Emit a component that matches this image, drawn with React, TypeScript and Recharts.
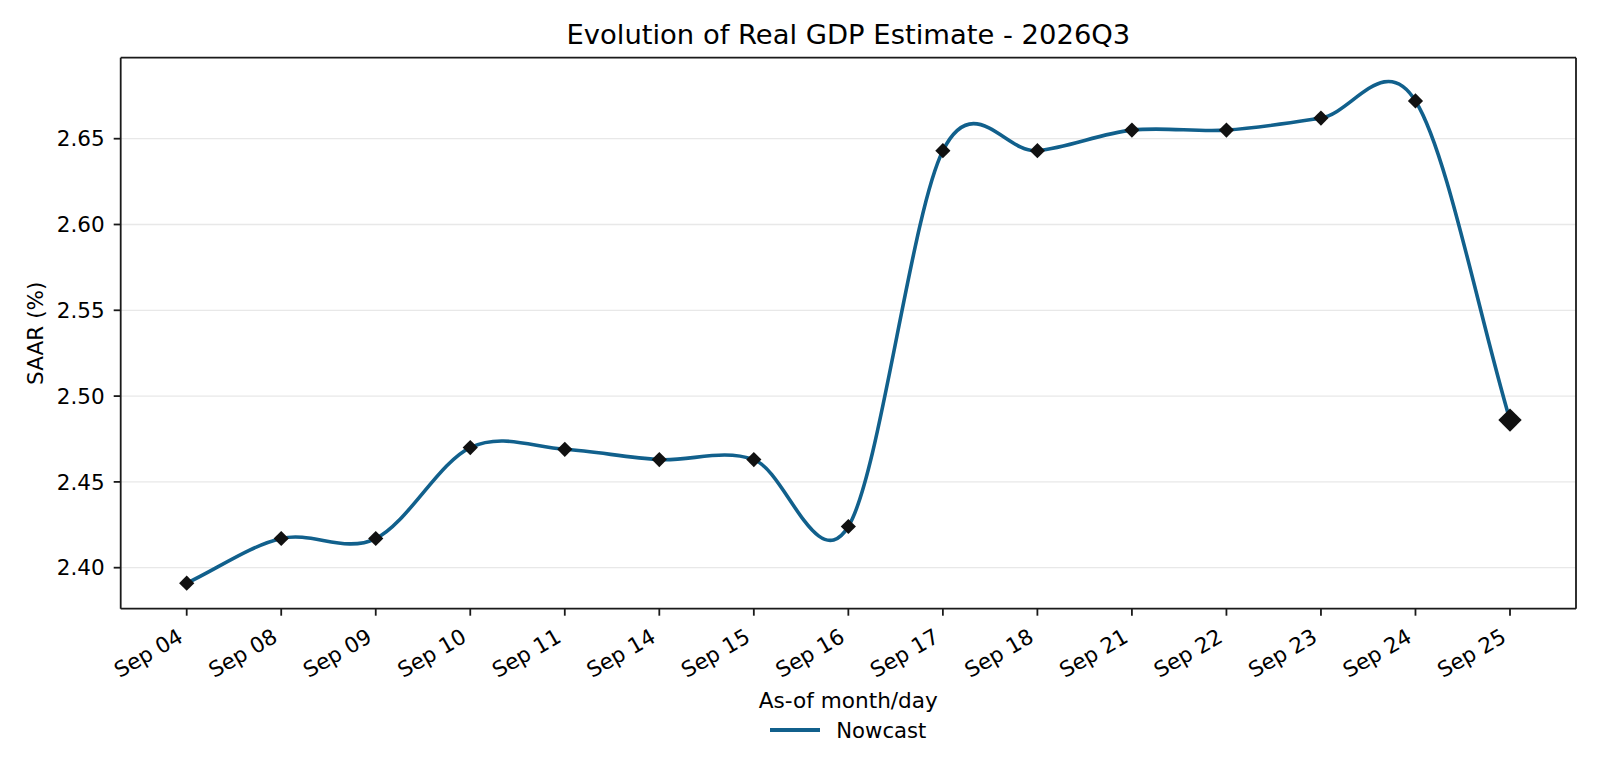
import React from "react";
import {
  CartesianGrid,
  Legend,
  Line,
  LineChart,
  XAxis,
  YAxis,
} from "recharts";

const days = [
  "Sep 04", "Sep 08", "Sep 09", "Sep 10", "Sep 11", "Sep 14", "Sep 15", "Sep 16",
  "Sep 17", "Sep 18", "Sep 21", "Sep 22", "Sep 23", "Sep 24", "Sep 25",
];
const nowcast = [
  2.391, 2.417, 2.417, 2.47, 2.469, 2.463, 2.463, 2.424,
  2.643, 2.643, 2.655, 2.655, 2.662, 2.672, 2.486,
];
const yTicks = [2.4, 2.45, 2.5, 2.55, 2.6, 2.65];

const data = days.map((day, i) => ({ day, nowcast: nowcast[i] }));

const FONT = "DejaVu Sans, sans-serif";
const LINE = "#11608c";
const AXIS = "#1a1a1a";

// cubic Hermite curve (Catmull-Rom tangents, one-sided at the ends)
const smoothCurve = (context: any) => {
  let xs: number[] = [];
  let ys: number[] = [];
  return {
    areaStart() {},
    areaEnd() {},
    lineStart() {
      xs = [];
      ys = [];
    },
    point(x: number, y: number) {
      xs.push(+x);
      ys.push(+y);
    },
    lineEnd() {
      const n = xs.length;
      if (n === 0) return;
      context.moveTo(xs[0], ys[0]);
      if (n === 1) return;
      const mx: number[] = [];
      const my: number[] = [];
      for (let i = 0; i < n; i++) {
        if (i === 0) {
          mx.push(xs[1] - xs[0]);
          my.push(ys[1] - ys[0]);
        } else if (i === n - 1) {
          mx.push(xs[n - 1] - xs[n - 2]);
          my.push(ys[n - 1] - ys[n - 2]);
        } else {
          mx.push((xs[i + 1] - xs[i - 1]) / 2);
          my.push((ys[i + 1] - ys[i - 1]) / 2);
        }
      }
      for (let i = 0; i < n - 1; i++) {
        context.bezierCurveTo(
          xs[i] + mx[i] / 3,
          ys[i] + my[i] / 3,
          xs[i + 1] - mx[i + 1] / 3,
          ys[i + 1] - my[i + 1] / 3,
          xs[i + 1],
          ys[i + 1]
        );
      }
    },
  };
};

const XTick = (props: any) => {
  const { x, y, payload } = props;
  const ax = x - 2.3;
  const ay = y + 23.3;
  return (
    <text
      x={ax}
      y={ay}
      textAnchor="end"
      transform={`rotate(-30, ${ax}, ${ay})`}
      fontSize={21.5}
      fontFamily={FONT}
      fill="#000"
    >
      {payload.value}
    </text>
  );
};

const Diamond = (props: any) => {
  const { cx, cy, index } = props;
  if (cx == null || cy == null) return null;
  const r = index === days.length - 1 ? 11.7 : 7.6;
  return (
    <polygon
      key={`d-${index}`}
      points={`${cx},${cy - r} ${cx + r},${cy} ${cx},${cy + r} ${cx - r},${cy}`}
      fill="#111111"
    />
  );
};

const XLabel = (props: any) => {
  const { viewBox } = props;
  return (
    <text
      x={viewBox.x + viewBox.width / 2}
      y={708.3}
      textAnchor="middle"
      fontSize={21.6}
      fontFamily={FONT}
      fill="#000"
    >
      As-of month/day
    </text>
  );
};

const YLabel = (props: any) => {
  const { viewBox } = props;
  const cy = viewBox.y + viewBox.height / 2;
  return (
    <text
      x={43}
      y={cy}
      textAnchor="middle"
      transform={`rotate(-90, 43, ${cy})`}
      fontSize={21.6}
      fontFamily={FONT}
      fill="#000"
    >
      SAAR (%)
    </text>
  );
};

const LegendBox = () => (
  <div
    style={{
      display: "flex",
      justifyContent: "center",
      alignItems: "center",
      height: 30,
      fontFamily: FONT,
      fontSize: 21.2,
    }}
  >
    <div style={{ width: 50, height: 4, background: LINE, marginRight: 16 }} />
    <span>Nowcast</span>
  </div>
);

export default function App() {
  return (
    <div style={{ position: "absolute", left: 0, top: 0, width: 1600, height: 768, background: "#fff" }}>
      <LineChart
        width={1600}
        height={768}
        data={data}
        margin={{ top: 56.7, right: 23, bottom: 39.3, left: 40.7 }}
      >
        <text
          x={848.4}
          y={44.3}
          textAnchor="middle"
          fontSize={27.4}
          fontFamily={FONT}
          fill="#000"
        >
          Evolution of Real GDP Estimate - 2026Q3
        </text>
        <CartesianGrid vertical={false} stroke="#e8e8e8" strokeWidth={1.3} />
        <XAxis
          dataKey="day"
          interval={0}
          padding={{ left: 66, right: 66 }}
          height={90}
          tickSize={7}
          tickMargin={2}
          tick={<XTick />}
          axisLine={{ stroke: AXIS, strokeWidth: 1.8 }}
          tickLine={{ stroke: AXIS, strokeWidth: 1.8 }}
          label={<XLabel />}
        />
        <XAxis
          xAxisId="top"
          dataKey="day"
          orientation="top"
          height={1}
          tick={false}
          tickLine={false}
          padding={{ left: 66, right: 66 }}
          axisLine={{ stroke: AXIS, strokeWidth: 1.8 }}
        />
        <YAxis
          domain={[2.3761, 2.6972]}
          ticks={yTicks}
          allowDataOverflow
          width={80}
          tickSize={7}
          tickMargin={9}
          tickFormatter={(v: number) => v.toFixed(2)}
          tick={{ fontSize: 21.5, fontFamily: FONT, fill: "#000" }}
          axisLine={{ stroke: AXIS, strokeWidth: 1.8 }}
          tickLine={{ stroke: AXIS, strokeWidth: 1.8 }}
          label={<YLabel />}
        />
        <YAxis
          yAxisId="right"
          orientation="right"
          type="number"
          domain={[0, 1]}
          width={1}
          tick={false}
          tickLine={false}
          axisLine={{ stroke: AXIS, strokeWidth: 1.8 }}
        />
        <Legend
          verticalAlign="bottom"
          content={<LegendBox />}
          wrapperStyle={{ top: 715, left: 120.7, width: 1455.3, bottom: "auto" }}
        />
        <Line
          type={smoothCurve as any}
          dataKey="nowcast"
          name="Nowcast"
          stroke={LINE}
          strokeWidth={3.6}
          dot={<Diamond />}
          activeDot={false}
          isAnimationActive={false}
        />
      </LineChart>
    </div>
  );
}
